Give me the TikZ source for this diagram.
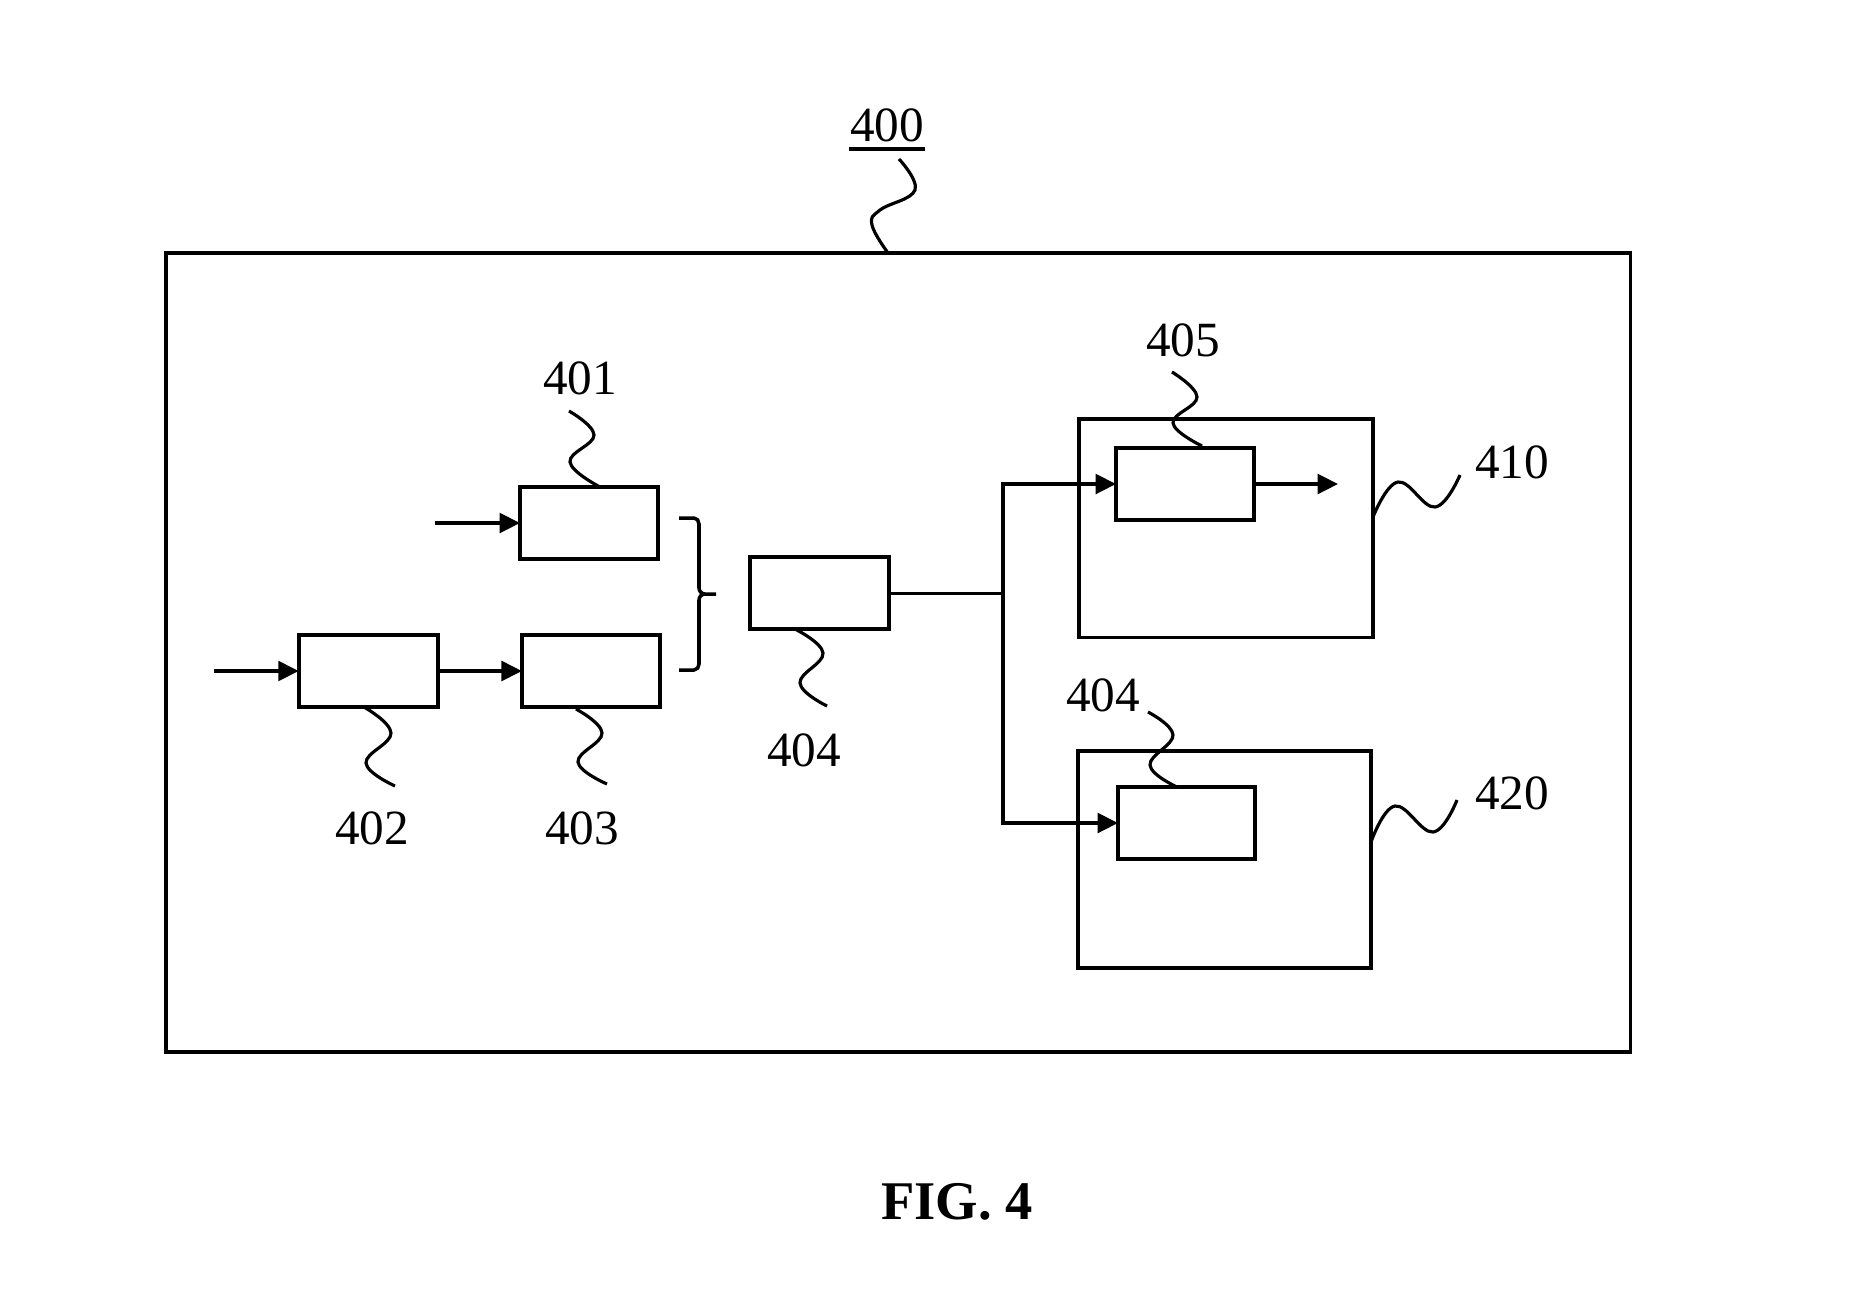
\documentclass[tikz,border=0pt]{standalone}
\usepackage{fontspec}
\setmainfont{Liberation Serif}
\usepackage{tikz}
\usetikzlibrary{arrows.meta}

\begin{document}
\begin{tikzpicture}[x=0.01cm, y=-0.01cm,
        caja/.style={draw, line width=1.1pt, inner sep=0pt, outer sep=0pt},
        flecha/.style={line width=1pt, -{Triangle[length=5.8pt, width=5.6pt]}},
        guia/.style={line width=0.9pt, smooth, tension=0.7},
        num/.style={font=\fontsize{14}{16}\selectfont}]
        \useasboundingbox (0,0) rectangle (1872,1314);

        % Caja exterior
        \node[caja, minimum width=14.64cm, minimum height=7.99cm] (b400) at (898,652.5) {};

        % Bloques de la izquierda
        \node[caja, minimum width=1.38cm, minimum height=0.72cm] (b401) at (589,523) {};
        \node[caja, minimum width=1.39cm, minimum height=0.72cm] (b402) at (368.2,671) {};
        \node[caja, minimum width=1.38cm, minimum height=0.72cm] (b403) at (590.9,671) {};
        \node[caja, minimum width=1.39cm, minimum height=0.72cm] (b404) at (819.5,593.3) {};

        % Bloques de la derecha
        \node[caja, minimum width=2.94cm, minimum height=2.185cm] (b410) at (1226,528.2) {};
        \node[caja, minimum width=1.38cm, minimum height=0.72cm] (b405) at (1185,484) {};
        \node[caja, minimum width=2.93cm, minimum height=2.17cm] (b420) at (1224.5,859.5) {};
        \node[caja, minimum width=1.37cm, minimum height=0.72cm] (b404b) at (1186.5,823) {};

        % Entradas y salidas
        \coordinate (in401) at (435,523);
        \coordinate (in402) at (214,671);
        \coordinate (out405) at (1338,484);
        \coordinate (j) at (1003,593.3);
        \draw[flecha] (in401) -- (b401.west);
        \draw[flecha] (in402) -- (b402.west);
        \draw[flecha] (b402.east) -- (b403.west);
        \draw[flecha] (b405.east) -- (out405);
        \draw[line width=1pt] (b404.east) -- (j);
        \draw[flecha] (j) |- (b405.west);
        \draw[flecha] (j) |- (b404b.west);

        % Llave
        \draw[line width=1pt] (679,518) -- (694,518) to[out=0,in=90] (699,524) -- (699,588)
            to[out=-90,in=180] (705,594) -- (716,594);
        \draw[line width=1pt] (679,670) -- (694,670) to[out=0,in=-90] (699,664) -- (699,600)
            to[out=90,in=180] (705,594);

        % Etiquetas
        \node[num, inner sep=0pt] (l400) at (887,125) {400};
        \draw[line width=1pt] ([yshift=-2.2pt]l400.base west) -- ([yshift=-2.2pt]l400.base east);
        \node[num] (l401) at (580,378) {401};
        \node[num] (l402) at (372,828) {402};
        \node[num] (l403) at (582,828) {403};
        \node[num] (l404) at (804,750) {404};
        \node[num] (l405) at (1183,340) {405};
        \node[num] (l404b) at (1103,695) {404};
        \node[num] (l410) at (1512,462) {410};
        \node[num] (l420) at (1512,793) {420};
        \node[font=\fontsize{15.5}{18}\selectfont\bfseries] (fig) at (957,1202) {FIG. 4};

        % Lineas guia
        \draw[guia] plot coordinates {(899,159) (915,190) (880,210) (872,225) (888,253)};
        \draw[guia] plot coordinates {(569,411) (594,435) (570,462) (600,487)};
        \draw[guia] plot coordinates {(364,707) (391,733) (366,763) (395,786)};
        \draw[guia] plot coordinates {(576,709) (602,733) (578,762) (607,784)};
        \draw[guia] plot coordinates {(795,629) (823,653) (800,683) (827,706)};
        \draw[guia] plot coordinates {(1172,372) (1197,397) (1173,423) (1202,446)};
        \draw[guia] plot coordinates {(1148,712) (1173,735) (1150,765) (1177,787)};
        \draw[guia] plot coordinates {(1373,517) (1398,482) (1435,507) (1460,475)};
        \draw[guia] plot coordinates {(1371,842) (1395,806) (1433,832) (1457,800)};
\end{tikzpicture}
\end{document}
